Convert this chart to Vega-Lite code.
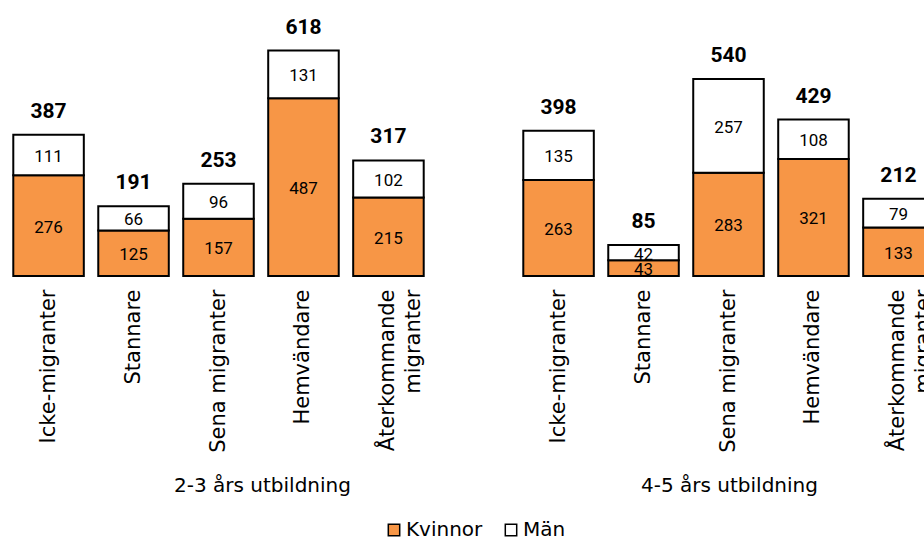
{
  "$schema": "https://vega.github.io/schema/vega-lite/v6.json",
  "padding": {"left": 7, "top": 5, "right": 0, "bottom": 0},
  "background": "white",
  "config": {
    "view": {"stroke": null},
    "concat": {"spacing": 87},
    "axis": {"grid": false}
  },
  "data": {
    "values": [
      {"edu": "2-3 års utbildning", "cat": "Icke-migranter", "sex": "Kvinnor", "value": 276},
      {"edu": "2-3 års utbildning", "cat": "Icke-migranter", "sex": "Män", "value": 111},
      {"edu": "2-3 års utbildning", "cat": "Stannare", "sex": "Kvinnor", "value": 125},
      {"edu": "2-3 års utbildning", "cat": "Stannare", "sex": "Män", "value": 66},
      {"edu": "2-3 års utbildning", "cat": "Sena migranter", "sex": "Kvinnor", "value": 157},
      {"edu": "2-3 års utbildning", "cat": "Sena migranter", "sex": "Män", "value": 96},
      {"edu": "2-3 års utbildning", "cat": "Hemvändare", "sex": "Kvinnor", "value": 487},
      {"edu": "2-3 års utbildning", "cat": "Hemvändare", "sex": "Män", "value": 131},
      {"edu": "2-3 års utbildning", "cat": "Återkommande|migranter", "sex": "Kvinnor", "value": 215},
      {"edu": "2-3 års utbildning", "cat": "Återkommande|migranter", "sex": "Män", "value": 102},
      {"edu": "4-5 års utbildning", "cat": "Icke-migranter", "sex": "Kvinnor", "value": 263},
      {"edu": "4-5 års utbildning", "cat": "Icke-migranter", "sex": "Män", "value": 135},
      {"edu": "4-5 års utbildning", "cat": "Stannare", "sex": "Kvinnor", "value": 43},
      {"edu": "4-5 års utbildning", "cat": "Stannare", "sex": "Män", "value": 42},
      {"edu": "4-5 års utbildning", "cat": "Sena migranter", "sex": "Kvinnor", "value": 283},
      {"edu": "4-5 års utbildning", "cat": "Sena migranter", "sex": "Män", "value": 257},
      {"edu": "4-5 års utbildning", "cat": "Hemvändare", "sex": "Kvinnor", "value": 321},
      {"edu": "4-5 års utbildning", "cat": "Hemvändare", "sex": "Män", "value": 108},
      {"edu": "4-5 års utbildning", "cat": "Återkommande|migranter", "sex": "Kvinnor", "value": 133},
      {"edu": "4-5 års utbildning", "cat": "Återkommande|migranter", "sex": "Män", "value": 79}
    ]
  },
  "resolve": {"scale": {"y": "shared", "color": "shared"}},
  "hconcat": [
    {
      "width": 423,
      "height": 271,
      "transform": [{"filter": "datum.edu === '2-3 års utbildning'"}],
      "encoding": {
        "x": {
          "field": "cat",
          "type": "nominal",
          "sort": ["Icke-migranter", "Stannare", "Sena migranter", "Hemvändare", "Återkommande|migranter"],
          "scale": {"paddingInner": 0.17, "paddingOuter": 0.074},
          "axis": {
            "title": "2-3 års utbildning",
            "titleFont": "DejaVu Sans",
            "titleFontSize": 20,
            "titleFontWeight": "normal",
            "titleColor": "black",
            "titleX": 255,
            "titleY": 215,
            "titleAlign": "center",
            "titleBaseline": "alphabetic",
            "labelAngle": -90,
            "labelFont": "DejaVu Sans",
            "labelFontSize": 21,
            "labelColor": "black",
            "labelPadding": 13,
            "labelLineHeight": 26,
            "labelExpr": "split(datum.label, '|')",
            "ticks": false,
            "tickSize": 0,
            "domain": false
          }
        }
      },
      "layer": [
        {
          "mark": {"type": "bar", "stroke": "black", "strokeWidth": 2},
          "encoding": {
            "y": {"field": "value", "type": "quantitative", "stack": "zero", "scale": {"domain": [0, 743], "nice": false}, "axis": null},
            "color": {
              "field": "sex",
              "type": "nominal",
              "scale": {"domain": ["Kvinnor", "Män"], "range": ["#F79646", "#FFFFFF"]},
              "legend": {
                "orient": "none",
                "direction": "horizontal",
                "legendX": 377,
                "legendY": 515,
                "title": null,
                "symbolType": "square",
                "symbolSize": 130,
                "symbolStrokeColor": "black",
                "symbolStrokeWidth": 1.5,
                "symbolOpacity": 1,
                "labelFont": "DejaVu Sans",
                "labelFontSize": 20,
                "labelColor": "black",
                "labelOffset": 2,
                "columnPadding": 18
              }
            },
            "order": {"field": "sex", "sort": "ascending"}
          }
        },
        {
          "transform": [
            {"stack": "value", "groupby": ["cat"], "sort": [{"field": "sex", "order": "ascending"}], "as": ["y0", "y1"]},
            {"calculate": "(datum.y0 + datum.y1) / 2", "as": "mid"}
          ],
          "mark": {"type": "text", "font": "Roboto", "fontSize": 17, "color": "black", "baseline": "middle", "dy": 2},
          "encoding": {
            "y": {"field": "mid", "type": "quantitative"},
            "text": {"field": "value", "type": "quantitative"}
          }
        },
        {
          "transform": [{"aggregate": [{"op": "sum", "field": "value", "as": "total"}], "groupby": ["cat"]}],
          "mark": {"type": "text", "font": "Roboto", "fontSize": 21, "fontWeight": "bold", "color": "black", "baseline": "alphabetic", "dy": -17},
          "encoding": {
            "y": {"field": "total", "type": "quantitative"},
            "text": {"field": "total", "type": "quantitative"}
          }
        }
      ]
    },
    {
      "width": 423,
      "height": 271,
      "transform": [{"filter": "datum.edu === '4-5 års utbildning'"}],
      "encoding": {
        "x": {
          "field": "cat",
          "type": "nominal",
          "sort": ["Icke-migranter", "Stannare", "Sena migranter", "Hemvändare", "Återkommande|migranter"],
          "scale": {"paddingInner": 0.17, "paddingOuter": 0.074},
          "axis": {
            "title": "4-5 års utbildning",
            "titleFont": "DejaVu Sans",
            "titleFontSize": 20,
            "titleFontWeight": "normal",
            "titleColor": "black",
            "titleX": 212,
            "titleY": 215,
            "titleAlign": "center",
            "titleBaseline": "alphabetic",
            "labelAngle": -90,
            "labelFont": "DejaVu Sans",
            "labelFontSize": 21,
            "labelColor": "black",
            "labelPadding": 13,
            "labelLineHeight": 26,
            "labelExpr": "split(datum.label, '|')",
            "ticks": false,
            "tickSize": 0,
            "domain": false
          }
        }
      },
      "layer": [
        {
          "mark": {"type": "bar", "stroke": "black", "strokeWidth": 2},
          "encoding": {
            "y": {"field": "value", "type": "quantitative", "stack": "zero", "scale": {"domain": [0, 743], "nice": false}, "axis": null},
            "color": {
              "field": "sex",
              "type": "nominal",
              "scale": {"domain": ["Kvinnor", "Män"], "range": ["#F79646", "#FFFFFF"]}
            },
            "order": {"field": "sex", "sort": "ascending"}
          }
        },
        {
          "transform": [
            {"stack": "value", "groupby": ["cat"], "sort": [{"field": "sex", "order": "ascending"}], "as": ["y0", "y1"]},
            {"calculate": "(datum.y0 + datum.y1) / 2", "as": "mid"}
          ],
          "mark": {"type": "text", "font": "Roboto", "fontSize": 17, "color": "black", "baseline": "middle", "dy": 2},
          "encoding": {
            "y": {"field": "mid", "type": "quantitative"},
            "text": {"field": "value", "type": "quantitative"}
          }
        },
        {
          "transform": [{"aggregate": [{"op": "sum", "field": "value", "as": "total"}], "groupby": ["cat"]}],
          "mark": {"type": "text", "font": "Roboto", "fontSize": 21, "fontWeight": "bold", "color": "black", "baseline": "alphabetic", "dy": -17},
          "encoding": {
            "y": {"field": "total", "type": "quantitative"},
            "text": {"field": "total", "type": "quantitative"}
          }
        }
      ]
    }
  ]
}
